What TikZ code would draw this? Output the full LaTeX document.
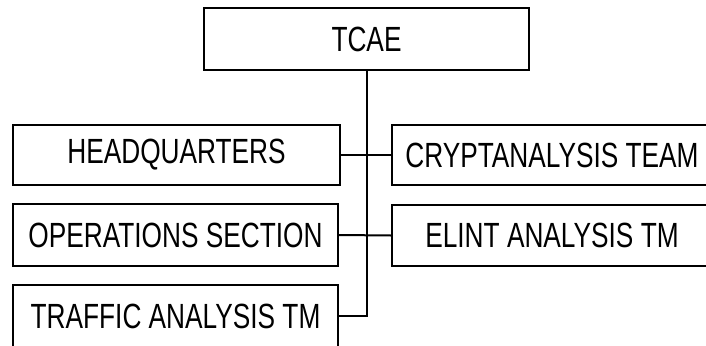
\documentclass[tikz,border=0pt]{standalone}
\usepackage{fontspec}
\setmainfont{Liberation Sans}[FakeStretch=0.75]
\begin{document}
\begin{tikzpicture}[x=1pt,y=-1pt,
  unit/.style={draw, line width=2.2pt, inner sep=0pt, font=\fontsize{35}{40}\selectfont},
  link/.style={line width=2pt}]
\useasboundingbox (0,0) rectangle (706,345);
\node[unit, minimum width=325pt, minimum height=62pt] (tcae) at (366.5,39) {TCAE};
\node[unit, minimum width=327pt, minimum height=60pt] (hq) at (176.5,155) {HEADQUARTERS};
\node[unit, minimum width=320pt, minimum height=60pt] (crypt) at (552,155) {CRYPTANALYSIS TEAM};
\node[unit, minimum width=325pt, minimum height=62pt] (ops) at (175.5,235) {OPERATIONS SECTION};
\node[unit, minimum width=320pt, minimum height=61pt] (elint) at (552,235.5) {ELINT ANALYSIS TM};
\node[unit, minimum width=325pt, minimum height=62pt] (traffic) at (175.5,316) {TRAFFIC ANALYSIS TM};
\draw[link] (tcae.south) -- (tcae.south |- traffic.east) -- (traffic.east);
\draw[link] (hq.east) -- (crypt.west);
\draw[link] (ops.east) -- (elint.west);
\end{tikzpicture}
\end{document}
